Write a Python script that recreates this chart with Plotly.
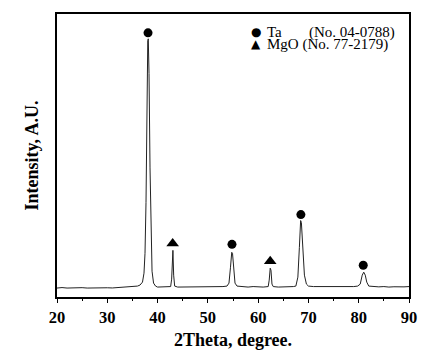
import plotly.graph_objects as go

# Digitized XRD pattern (2theta, intensity a.u.)
two_theta = [20, 21, 22, 23, 24, 25, 26, 27, 28, 29, 30, 31, 32, 33, 34, 35, 35.5, 36, 36.5, 37, 37.3, 37.5, 37.7, 37.9,
             38.05, 38.15, 38.3, 38.5, 38.7, 38.9, 39.2, 39.6, 40, 41, 42, 42.6, 42.8, 42.95, 43.05, 43.2, 43.4, 44,
             45, 46, 47, 48, 49, 50, 51, 52, 53, 53.8, 54.2, 54.5, 54.75, 54.9, 55.1, 55.4, 55.8, 56.5, 57, 58, 59,
             60, 61, 62.0, 62.2, 62.4, 62.55, 62.75, 63.0, 64, 65, 66, 67, 67.5, 67.9, 68.2, 68.45, 68.6, 68.9,
             69.2, 69.6, 70.0, 71, 72, 73, 74, 75, 76, 77, 78, 79, 79.8, 80.3, 80.7, 81.0, 81.3, 81.6, 82.0, 83,
             84, 85, 86, 87, 88, 89, 90]
intensity = [9, 9.5, 9, 9.3, 9, 9.4, 9, 9.2, 9.5, 9, 9.3, 9.1, 9.4, 9.6, 10, 10.5, 11, 11, 12, 15, 24, 44, 95, 205,
             258, 260, 225, 130, 58, 26, 14, 11, 10, 10, 10, 10.5, 18, 44, 47, 22, 11, 10,
             10, 10, 10.3, 10, 10.4, 10, 10, 10.2, 10.5, 11, 14, 30, 45, 44, 30, 14, 11, 10.5, 10, 10, 10.5,
             10, 10, 10.5, 17, 29, 27, 13, 10.5, 10, 10, 10.2, 10.5, 11, 20, 50, 77, 75, 45,
             22, 13, 11, 10.5, 10.5, 10, 10.3, 10, 10.5, 10.5, 10.2, 10.5, 11, 13, 22, 25, 22, 15, 11, 10.5,
             10.2, 10.5, 10, 10.3, 10, 10.2, 10.5]

# Phase markers
ta_x = [38.1, 54.8, 68.5, 80.9]
ta_y = [266, 53, 83, 32]
mgo_x = [43.0, 62.4]
mgo_y = [54, 36]

x_ticks = [20, 30, 40, 50, 60, 70, 80, 90]

font = "Liberation Serif"

fig = go.Figure()
fig.add_trace(go.Scatter(x=two_theta, y=intensity, mode="lines",
                         line=dict(color="#222222", width=1), showlegend=False))
fig.add_trace(go.Scatter(x=ta_x, y=ta_y, mode="markers",
                         marker=dict(symbol="circle", size=9, color="black"), showlegend=False))
fig.add_trace(go.Scatter(x=mgo_x, y=mgo_y, mode="markers",
                         marker=dict(symbol="triangle-up", size=11, color="black"), showlegend=False))

fig.update_layout(
    width=435, height=353,
    margin=dict(l=49, r=34, t=4, b=64),
    plot_bgcolor="white", paper_bgcolor="white",
    font=dict(family=font, color="black"),
    xaxis=dict(range=[20, 90], tickvals=x_ticks, ticks="outside", ticklen=4, tickwidth=1.2,
               tickcolor="black", showline=True, linecolor="black", linewidth=1.5, mirror=True,
               showgrid=False, zeroline=False,
               tickfont=dict(family=font, size=16.5, color="black", weight="bold"),
               minor=dict(dtick=5, ticks="outside", ticklen=2.5, tickcolor="black", tickwidth=1),
               title=dict(text="<b>2Theta, degree.</b>", font=dict(family=font, size=18), standoff=8)),
    yaxis=dict(range=[0, 285], showticklabels=False, ticks="", showline=True, linecolor="black",
               linewidth=1.5, mirror=True, showgrid=False, zeroline=False,
               title=dict(text="<b>Intensity, A.U.</b>", font=dict(family=font, size=18), standoff=12)),
)

ann_font = dict(family=font, size=15, color="black")
fig.add_annotation(xref="paper", yref="paper", x=0.564, y=0.937, text="●", showarrow=False,
                   xanchor="center", yanchor="middle", font=dict(family="DejaVu Sans", size=12, color="black"))
fig.add_annotation(xref="paper", yref="paper", x=0.564, y=0.893, text="▲", showarrow=False,
                   xanchor="center", yanchor="middle", font=dict(family="DejaVu Sans", size=12, color="black"))
fig.add_annotation(xref="paper", yref="paper", x=0.591, y=0.935, text="Ta", showarrow=False,
                   xanchor="left", yanchor="middle", font=ann_font)
fig.add_annotation(xref="paper", yref="paper", x=0.966, y=0.935, text="(No. 04-0788)", showarrow=False,
                   xanchor="right", yanchor="middle", font=ann_font)
fig.add_annotation(xref="paper", yref="paper", x=0.591, y=0.891, text="MgO (No. 77-2179)", showarrow=False,
                   xanchor="left", yanchor="middle", font=ann_font)

fig.write_html("out.html")
